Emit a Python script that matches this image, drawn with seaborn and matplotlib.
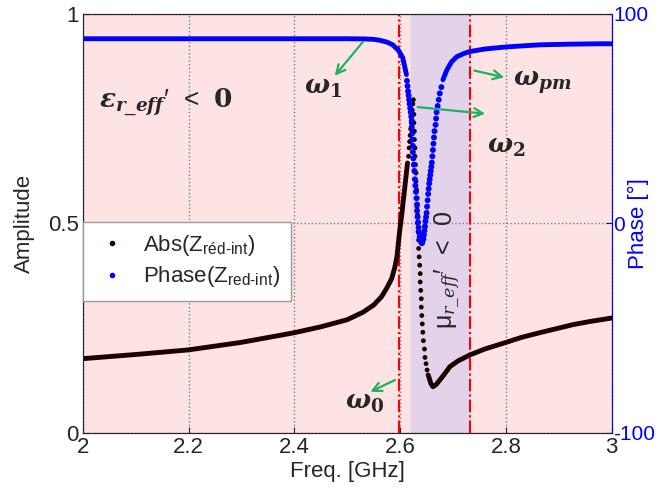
import matplotlib
matplotlib.use('Agg')
import matplotlib.pyplot as plt
import seaborn as sns
from matplotlib.lines import Line2D

# amplitude |Z| (left axis)
abs_f_low = [2.0, 2.1, 2.2, 2.3, 2.4, 2.45, 2.5, 2.53, 2.55, 2.565, 2.575,
             2.584, 2.59, 2.594, 2.599, 2.603, 2.607, 2.611, 2.614]
abs_low = [0.177, 0.187, 0.198, 0.216, 0.239, 0.253, 0.270, 0.288, 0.305, 0.325, 0.346,
           0.368, 0.395, 0.420, 0.480, 0.520, 0.565, 0.610, 0.644]
# sparse dots around the resonance
abs_f_dots = [2.616, 2.617, 2.618, 2.619, 2.620, 2.621, 2.622, 2.623, 2.624, 2.625,
              2.626, 2.626, 2.627, 2.627, 2.628, 2.628, 2.629, 2.630, 2.630, 2.631,
              2.632, 2.632, 2.633, 2.633, 2.634, 2.635, 2.635, 2.636, 2.637, 2.638,
              2.638, 2.639, 2.640, 2.640, 2.641, 2.642, 2.643, 2.644, 2.646, 2.647,
              2.649, 2.651, 2.653]
abs_dots = [0.660, 0.680, 0.695, 0.710, 0.725, 0.740, 0.755, 0.770, 0.785, 0.795,
            0.760, 0.740, 0.720, 0.700, 0.680, 0.660, 0.640, 0.620, 0.600, 0.580,
            0.560, 0.540, 0.520, 0.500, 0.480, 0.460, 0.440, 0.420, 0.400, 0.380,
            0.360, 0.340, 0.320, 0.300, 0.280, 0.260, 0.240, 0.220, 0.200, 0.180,
            0.165, 0.150, 0.138]
abs_f_high = [2.654, 2.658, 2.662, 2.668, 2.675, 2.685, 2.694, 2.71, 2.732, 2.76,
              2.798, 2.83, 2.864, 2.9, 2.926, 2.96, 3.0]
abs_high = [0.135, 0.118, 0.110, 0.115, 0.126, 0.142, 0.158, 0.172, 0.186, 0.200,
            0.215, 0.228, 0.239, 0.250, 0.258, 0.266, 0.274]

# phase (right axis, degrees)
ph_f_low = [2.0, 2.3, 2.5, 2.533, 2.55, 2.561, 2.575, 2.586, 2.597, 2.605, 2.612]
ph_low = [88.1, 88.1, 88.1, 88.0, 87.8, 87.4, 86.5, 85.2, 82.5, 79.0, 71.0]
ph_f_dots = [2.613, 2.614, 2.615, 2.616, 2.617, 2.618, 2.619, 2.620, 2.621, 2.622,
             2.622, 2.623, 2.623, 2.624, 2.624, 2.625, 2.626, 2.627, 2.628, 2.629,
             2.630, 2.631, 2.632, 2.632, 2.633, 2.634, 2.635, 2.636, 2.637, 2.638,
             2.640, 2.641, 2.642, 2.644, 2.645, 2.646, 2.647, 2.648, 2.649, 2.650,
             2.651, 2.652, 2.653, 2.654, 2.655, 2.656, 2.657, 2.658, 2.659, 2.660,
             2.661, 2.662, 2.663, 2.664, 2.665, 2.667, 2.668, 2.669, 2.671, 2.673,
             2.675, 2.678]
ph_dots = [68, 65.5, 63, 61, 59, 57, 55, 53, 51, 49,
           46, 43, 40, 37, 34, 31, 28, 25, 21, 18,
           15, 12, 9, 6, 3, 0.5, -2, -4.5, -6.5, -8,
           -9, -9.5, -9, -7.5, -5.5, -3.5, -1.5, 1, 3, 5,
           8, 11, 14, 16.5, 19, 21, 23, 25, 27, 29,
           32, 35, 38, 41, 44, 47, 50, 53, 56, 59,
           62, 65]
ph_f_high = [2.681, 2.688, 2.697, 2.707, 2.72, 2.732, 2.76, 2.801, 2.864, 2.92, 2.977, 3.0]
ph_high = [68.5, 73, 77, 79.5, 81, 82, 83.2, 84.2, 85.2, 85.5, 85.7, 85.7]

# region markers
f_res_lines = [2.597, 2.733]
band = (2.620, 2.733)

sns.set_style('ticks')
plt.rcParams['font.family'] = ['Liberation Sans', 'DejaVu Sans']
plt.rcParams['font.size'] = 16
plt.rcParams['xtick.direction'] = 'in'
plt.rcParams['ytick.direction'] = 'in'
plt.rcParams['mathtext.fontset'] = 'custom'
plt.rcParams['mathtext.rm'] = 'Liberation Sans'
plt.rcParams['mathtext.it'] = 'DejaVu Serif:italic:bold'
plt.rcParams['mathtext.bf'] = 'DejaVu Serif:bold'
plt.rcParams['mathtext.sf'] = 'DejaVu Serif:italic'

black = '#1c0000'
blue = '#0000ff'
green = '#1fb060'

fig, ax = plt.subplots(figsize=(6.62, 4.93), dpi=100)
fig.subplots_adjust(left=0.125, right=0.924, bottom=0.122, top=0.972)
ax.set_facecolor('#fde3e3')
ax.axvspan(band[0], band[1], color='#e2d3ea', zorder=0)
for f in f_res_lines:
    ax.axvline(f, color='red', lw=1.5, ls=(0, (6, 1.5, 1, 1.5)), zorder=1)

sns.lineplot(x=abs_f_low, y=abs_low, ax=ax, color=black, lw=3.5, zorder=3)
sns.lineplot(x=abs_f_high, y=abs_high, ax=ax, color=black, lw=3.5, zorder=3)
sns.scatterplot(x=abs_f_dots, y=abs_dots, ax=ax, color=black, s=12,
                edgecolor='none', zorder=3)

ax.set_xlim(2, 3)
ax.set_ylim(0, 1)
ax.set_xticks([2, 2.2, 2.4, 2.6, 2.8, 3])
ax.set_xticklabels(['2', '2.2', '2.4', '2.6', '2.8', '3'])
ax.set_yticks([0, 0.5, 1])
ax.set_yticklabels(['0', '0.5', '1'])
ax.grid(True, ls=':', color='#808080', lw=1)
ax.set_xlabel('Freq. [GHz]', labelpad=2)
ax.set_ylabel('Amplitude')
ax.yaxis.set_label_coords(-0.09, 0.5)
ax.tick_params(length=4, pad=3)

ax2 = ax.twinx()
ax2.patch.set_visible(False)
sns.lineplot(x=ph_f_low, y=ph_low, ax=ax2, color=blue, lw=3.5)
sns.lineplot(x=ph_f_high, y=ph_high, ax=ax2, color=blue, lw=3.5)
sns.scatterplot(x=ph_f_dots, y=ph_dots, ax=ax2, color=blue, s=18, edgecolor='none')
ax2.set_ylim(-100, 100)
ax2.set_yticks([-100, 0, 100])
ax2.set_yticklabels(['-100', '0', '100'], fontsize=15)
ax2.set_ylabel('Phase [°]', color=blue)
ax2.yaxis.set_label_coords(1.03, 0.5)
ax2.tick_params(axis='y', colors=blue, length=4, pad=1)
ax2.spines['right'].set_color(blue)
ax2.set_xlim(2, 3)

# annotations
arrow = dict(arrowstyle='->', color=green, lw=1.6)
tr = ax.transData
ax2.annotate('', xy=(2.473, 0.847), xytext=(2.533, 0.938),
             xycoords=tr, textcoords=tr, arrowprops=arrow)
ax2.text(2.454, 0.823, r'$\omega_{\mathbf{1}}$', transform=tr, fontsize=19,
         ha='center', va='center')
ax2.annotate('', xy=(2.802, 0.847), xytext=(2.735, 0.866),
             xycoords=tr, textcoords=tr, arrowprops=arrow)
ax2.text(2.813, 0.835, r'$\omega_{pm}$', transform=tr, fontsize=19,
         ha='left', va='center')
ax2.annotate('', xy=(2.766, 0.761), xytext=(2.628, 0.778),
             xycoords=tr, textcoords=tr, arrowprops=arrow)
ax2.text(2.80, 0.683, r'$\omega_{\mathbf{2}}$', transform=tr, fontsize=19,
         ha='center', va='center')
ax2.annotate('', xy=(2.539, 0.095), xytext=(2.595, 0.129),
             xycoords=tr, textcoords=tr, arrowprops=arrow)
ax2.text(2.533, 0.072, r'$\omega_{\mathbf{0}}$', transform=tr, fontsize=19,
         ha='center', va='center')
ax2.text(2.157, 0.788, r"$\varepsilon_{r\_eff}\mathrm{′}\ \mathrm{<}\ \mathbf{0}$",
         transform=tr, fontsize=19, ha='center', va='center')
ax2.text(2.688, 0.39, r"$\mathrm{\mu}_{\mathsf{r\_eff}}\mathrm{′}\ \mathrm{<}\ \mathrm{0}$",
         transform=tr, fontsize=18, ha='center', va='center', rotation=90)

handles = [Line2D([], [], ls='none', marker='.', color=black, markersize=6),
           Line2D([], [], ls='none', marker='.', color=blue, markersize=6)]
labels = [r'Abs(Z$_{\mathrm{réd‐int}}$)', r'Phase(Z$_{\mathrm{red‐int}}$)']
leg = ax2.legend(handles, labels, loc='upper left', bbox_to_anchor=(0, 0.504),
                 borderaxespad=0, fancybox=False, framealpha=1, edgecolor='#9a9a9a',
                 fontsize=16, handlelength=1.6, handletextpad=0.6,
                 labelspacing=0.3, borderpad=0.5)
leg.get_frame().set_linewidth(1)

fig.savefig('out.png', dpi=100)
